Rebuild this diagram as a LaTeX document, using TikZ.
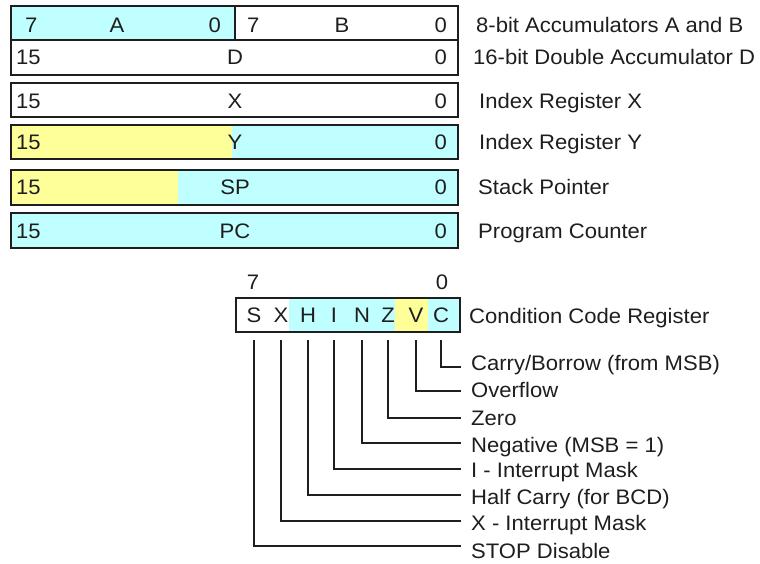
\documentclass[tikz,border=0pt]{standalone}
\usepackage{fontspec}
\setmainfont{Liberation Sans}[FakeStretch=1.05]
\definecolor{regcyan}{RGB}{192,255,255}
\definecolor{regyellow}{RGB}{255,255,153}
\definecolor{ink}{RGB}{30,30,30}
\tikzset{
  regframe/.style={draw=ink, line width=1.4pt},
  lbl/.style={font=\fontsize{21}{24}\selectfont, text=ink, inner sep=0pt,
              text height=15pt, text depth=0pt},
  bitline/.style={draw=ink, line width=1.2pt},
}
\begin{document}
\begin{tikzpicture}[x=1pt,y=-1pt]
\useasboundingbox (0,0) rectangle (760,564);

% ---- fills ----
\fill[regcyan] (11,6) rectangle (235,40);
\fill[regyellow] (11,125) rectangle (232,159);
\fill[regcyan] (232,125) rectangle (458,159);
\fill[regyellow] (11,170) rectangle (178,205);
\fill[regcyan] (178,170) rectangle (458,205);
\fill[regcyan] (11,213) rectangle (458,248);
\fill[regcyan] (289,298) rectangle (395,332);
\fill[regyellow] (395,298) rectangle (428,332);
\fill[regcyan] (428,298) rectangle (460,332);

% ---- register frames ----
\draw[regframe] (11,6) rectangle (235,40);
\draw[regframe] (235,6) rectangle (458,40);
\draw[regframe] (11,40) rectangle (458,75);
\draw[regframe] (11,83) rectangle (458,117);
\draw[regframe] (11,125) rectangle (458,159);
\draw[regframe] (11,170) rectangle (458,205);
\draw[regframe] (11,213) rectangle (458,248);
\draw[regframe] (236,298) rectangle (460,332);

% ---- accumulators A and B ----
\node[lbl, anchor=west] (a7) at (25,25.5) {7};
\node[lbl] (aname) at (117,25.5) {A};
\node[lbl, anchor=east] (a0) at (221,25.5) {0};
\node[lbl, anchor=west] (b7) at (247,25.5) {7};
\node[lbl] (bname) at (342,25.5) {B};
\node[lbl, anchor=east] (b0) at (447,25.5) {0};
\node[lbl, anchor=west] (abdesc) at (476,25.5) {8-bit Accumulators A and B};

% ---- 16-bit registers ----
\foreach \nm/\txt/\yy/\desc/\dx in {
    d/D/57.5/16-bit Double Accumulator D/473,
    x/X/101.5/Index Register X/479,
    y/Y/142.5/Index Register Y/479,
    sp/SP/187.5/Stack Pointer/478,
    pc/PC/230.5/Program Counter/478} {
  \node[lbl, anchor=west] (\nm15) at (16,\yy) {15};
  \node[lbl] (\nm name) at (235,\yy) {\txt};
  \node[lbl, anchor=east] (\nm0) at (447,\yy) {0};
  \node[lbl, anchor=west] (\nm desc) at (\dx,\yy) {\desc};
}

% ---- condition code register ----
\node[lbl] (ccr7) at (253,282) {7};
\node[lbl] (ccr0) at (442,282) {0};
\node[lbl, anchor=west] (ccrdesc) at (469,316) {Condition Code Register};

\foreach \nm/\bx in {S/254,X/281,H/308,I/334,N/362,Z/388,V/416,C/441} {
  \node[lbl] (bit\nm) at (\bx,315) {\nm};
  \coordinate (top\nm) at (\bx,340);
}

% ---- flag descriptions and leader lines ----
\foreach \nm/\ly/\ty/\desc in {
    C/367/363/{Carry/Borrow (from MSB)},
    V/391/390/Overflow,
    Z/418/418/Zero,
    N/443/445/Negative (MSB = 1),
    I/469/470/I - Interrupt Mask,
    H/495/497/Half Carry (for BCD),
    X/521/523/X - Interrupt Mask,
    S/546/551/STOP Disable} {
  \node[lbl, anchor=west] (flag\nm) at (471,\ty) {\desc};
  \coordinate (end\nm) at (461,\ly);
  \draw[bitline] (top\nm) |- (end\nm);
}
\end{tikzpicture}
\end{document}
